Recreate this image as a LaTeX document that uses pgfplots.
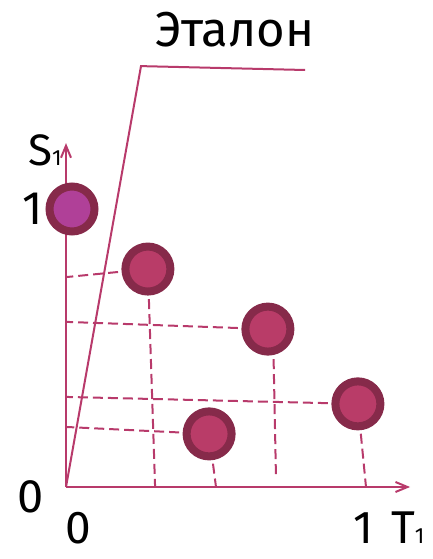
\documentclass[border=0pt]{standalone}
\usepackage{fontspec}
\setmainfont{Fira Sans}
\usepackage{pgfplots}
\pgfplotsset{compat=1.18}
\usetikzlibrary{arrows.meta}

\definecolor{linecol}{RGB}{184,58,107}
\definecolor{ringcol}{RGB}{134,42,74}
\definecolor{fillA}{RGB}{185,60,104}
\definecolor{fillP}{RGB}{176,64,152}

\begin{document}
\begin{tikzpicture}
\begin{axis}[
    x=150pt, y=139pt,
    xmin=0, xmax=1.147, ymin=0, ymax=1.237,
    enlargelimits=false,
    axis lines=middle,
    ticks=none,
    clip=false,
    axis line style={draw=linecol, line width=1pt},
    x axis line style={-{Straight Barb[length=6pt,width=5pt]}},
    y axis line style={-{Straight Barb[length=6pt,width=5pt]}},
    every node/.style={inner sep=0pt, text=black},
]
% projection lines (slightly skewed, as drawn)
\addplot[linecol, line width=1pt, dash pattern=on 5pt off 2.5pt] coordinates {(0.273,0.784) (0,0.755)};
\addplot[linecol, line width=1pt, dash pattern=on 5pt off 2.5pt] coordinates {(0.273,0.784) (0.297,0)};
\addplot[linecol, line width=1pt, dash pattern=on 5pt off 2.5pt] coordinates {(0.673,0.568) (0,0.594)};
\addplot[linecol, line width=1pt, dash pattern=on 5pt off 2.5pt] coordinates {(0.69,0.568) (0.70,0.032)};
\addplot[linecol, line width=1pt, dash pattern=on 5pt off 2.5pt] coordinates {(0.973,0.299) (0,0.324)};
\addplot[linecol, line width=1pt, dash pattern=on 5pt off 2.5pt] coordinates {(0.973,0.299) (1.0,0)};
\addplot[linecol, line width=1pt, dash pattern=on 5pt off 2.5pt] coordinates {(0.477,0.191) (0,0.216)};
\addplot[linecol, line width=1pt, dash pattern=on 5pt off 2.5pt] coordinates {(0.477,0.191) (0.5,0)};

% reference line
\addplot[linecol, line width=1pt] coordinates {(0,0) (0.25,1.514) (0.797,1.5)};

% points
\addplot[only marks, mark=*, mark size=11.25pt,
    mark options={draw=ringcol, fill=fillA, line width=4pt}] coordinates {
    (0.273,0.784) (0.673,0.568) (0.973,0.299) (0.477,0.191)
};
\addplot[only marks, mark=*, mark size=11.25pt,
    mark options={draw=ringcol, fill=fillP, line width=4pt}] coordinates {
    (0.02,1.0)
};

% labels
\node[anchor=base, font=\fontsize{24.5}{28}\selectfont] at (axis cs:0.563,1.583) {Эталон};
\node[anchor=base west, font=\fontsize{22}{26}\selectfont] at (axis cs:-0.15,1.158) {S{\fontsize{11}{12}\selectfont 1}};
\node[anchor=base east, font=\fontsize{23.5}{27}\selectfont] at (axis cs:-0.055,0.946) {1};
\node[anchor=base east, font=\fontsize{23.5}{27}\selectfont] at (axis cs:-0.052,-0.09) {0};
\node[anchor=base, font=\fontsize{23}{27}\selectfont] at (axis cs:0.04,-0.205) {0};
\node[anchor=base, font=\fontsize{23}{27}\selectfont] at (axis cs:0.99,-0.205) {1};
\node[anchor=base west, font=\fontsize{23}{27}\selectfont] at (axis cs:1.06,-0.205) {T{\fontsize{11}{12}\selectfont 1}};
\end{axis}
\pgfresetboundingbox
\path (-33pt,-36pt) rectangle (183.5pt,243.5pt);
\end{tikzpicture}
\end{document}
